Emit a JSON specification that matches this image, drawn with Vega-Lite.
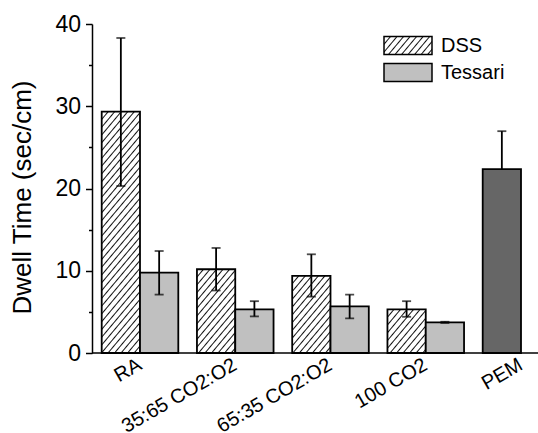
{
  "$schema": "https://vega.github.io/schema/vega-lite/v6.json",
  "width": 446,
  "height": 329,
  "autosize": {"type": "none"},
  "padding": {"left": 92, "top": 24, "right": 0, "bottom": 80},
  "background": "white",
  "config": {"view": {"stroke": null}, "font": "Liberation Sans", "axis": {"grid": false}},
  "data": {"values": [
    {"group": "RA", "method": "DSS", "value": 29.35, "lo": 20.3, "hi": 38.3},
    {"group": "RA", "method": "Tessari", "value": 9.77, "lo": 7.1, "hi": 12.4},
    {"group": "35:65 CO2:O2", "method": "DSS", "value": 10.18, "lo": 7.6, "hi": 12.77},
    {"group": "35:65 CO2:O2", "method": "Tessari", "value": 5.3, "lo": 4.45, "hi": 6.3},
    {"group": "65:35 CO2:O2", "method": "DSS", "value": 9.37, "lo": 6.85, "hi": 12.0},
    {"group": "65:35 CO2:O2", "method": "Tessari", "value": 5.67, "lo": 4.2, "hi": 7.1},
    {"group": "100 CO2", "method": "DSS", "value": 5.3, "lo": 4.4, "hi": 6.3},
    {"group": "100 CO2", "method": "Tessari", "value": 3.73, "lo": 3.65, "hi": 3.8},
    {"group": "PEM", "method": "PEM", "value": 22.35, "lo": 17.73, "hi": 26.97}
  ]},
  "layer": [
    {
      "transform": [{"filter": "datum.group !== 'PEM'"}],
      "encoding": {
        "x": {"field": "group", "type": "nominal", "title": null,
          "scale": {"domain": ["RA", "35:65 CO2:O2", "65:35 CO2:O2", "100 CO2", "PEM"], "range": [9.7, 467.3], "paddingInner": 0.1958, "paddingOuter": 0},
          "axis": {"domain": false, "ticks": false, "labelAngle": -30, "labelAlign": "right", "labelBaseline": "middle", "labelFontSize": 20, "labelColor": "black", "labelFont": "Liberation Sans", "labelPadding": 10, "labelOverlap": false}},
        "xOffset": {"field": "method", "type": "nominal", "scale": {"domain": ["DSS", "Tessari"], "paddingInner": 0, "paddingOuter": 0}}
      },
      "layer": [
        {
          "mark": {"type": "bar", "stroke": "black", "strokeWidth": 1.8},
          "encoding": {
            "y": {"field": "value", "type": "quantitative", "title": "Dwell Time (sec/cm)",
              "scale": {"domain": [0, 40], "nice": false},
              "axis": {"orient": "left", "values": [0, 5, 10, 15, 20, 25, 30, 35, 40], "labelExpr": "datum.value % 10 === 0 ? datum.label : ''",
                "tickSize": 6.5,
                "tickDash": {"condition": {"test": "datum.value % 10 !== 0", "value": [3.5, 20]}, "value": [1000, 0]},
                "tickColor": "black", "tickWidth": 1.5, "domainColor": "black", "domainWidth": 1.5,
                "labelFontSize": 23, "labelColor": "black", "labelFont": "Liberation Sans", "labelPadding": 5,
                "titleFontSize": 26, "titleFontWeight": "normal", "titleColor": "black", "titleFont": "Liberation Sans",
                "titleX": -57, "titleY": 173, "grid": false}},
            "fill": {"field": "method", "type": "nominal",
              "scale": {"domain": ["DSS", "Tessari"], "range": [{"expr": "({gradient: 'linear', x1: 0, y1: 0, x2: 4.70174, y2: 1.47944, stops: [{offset: 0, color: '#111'}, {offset: 0.00526, color: '#fff'}, {offset: 0.02105, color: '#fff'}, {offset: 0.02632, color: '#111'}, {offset: 0.03158, color: '#fff'}, {offset: 0.04737, color: '#fff'}, {offset: 0.05263, color: '#111'}, {offset: 0.05789, color: '#fff'}, {offset: 0.07368, color: '#fff'}, {offset: 0.07895, color: '#111'}, {offset: 0.08421, color: '#fff'}, {offset: 0.1, color: '#fff'}, {offset: 0.10526, color: '#111'}, {offset: 0.11053, color: '#fff'}, {offset: 0.12632, color: '#fff'}, {offset: 0.13158, color: '#111'}, {offset: 0.13684, color: '#fff'}, {offset: 0.15263, color: '#fff'}, {offset: 0.15789, color: '#111'}, {offset: 0.16316, color: '#fff'}, {offset: 0.17895, color: '#fff'}, {offset: 0.18421, color: '#111'}, {offset: 0.18947, color: '#fff'}, {offset: 0.20526, color: '#fff'}, {offset: 0.21053, color: '#111'}, {offset: 0.21579, color: '#fff'}, {offset: 0.23158, color: '#fff'}, {offset: 0.23684, color: '#111'}, {offset: 0.24211, color: '#fff'}, {offset: 0.25789, color: '#fff'}, {offset: 0.26316, color: '#111'}, {offset: 0.26842, color: '#fff'}, {offset: 1, color: '#fff'}]})"}, "#c0c0c0"]},
              "legend": {"title": null, "orient": "none", "legendX": 291, "legendY": 11, "padding": 0,
                "symbolType": "M-1,-0.375H1V0.375H-1Z", "symbolSize": 2304, "symbolStrokeColor": "black", "symbolStrokeWidth": 1.5,
                "labelFontSize": 20, "labelColor": "black", "labelFont": "Liberation Sans", "labelOffset": 8, "rowPadding": 6, "clipHeight": 21},
              "condition": [
                {"test": "datum.method === 'DSS' && datum.group === 'RA'", "value": {"gradient": "linear", "x1": 0, "y1": 0, "x2": 0.22348, "y2": 1.18223, "stops": [
{"offset":0,"color":"#111"},{"offset":0.00526,"color":"#fff"},
{"offset":0.02105,"color":"#fff"},{"offset":0.02632,"color":"#111"},{"offset":0.03158,"color":"#fff"},
{"offset":0.04737,"color":"#fff"},{"offset":0.05263,"color":"#111"},{"offset":0.05789,"color":"#fff"},
{"offset":0.07368,"color":"#fff"},{"offset":0.07895,"color":"#111"},{"offset":0.08421,"color":"#fff"},
{"offset":0.1,"color":"#fff"},{"offset":0.10526,"color":"#111"},{"offset":0.11053,"color":"#fff"},
{"offset":0.12632,"color":"#fff"},{"offset":0.13158,"color":"#111"},{"offset":0.13684,"color":"#fff"},
{"offset":0.15263,"color":"#fff"},{"offset":0.15789,"color":"#111"},{"offset":0.16316,"color":"#fff"},
{"offset":0.17895,"color":"#fff"},{"offset":0.18421,"color":"#111"},{"offset":0.18947,"color":"#fff"},
{"offset":0.20526,"color":"#fff"},{"offset":0.21053,"color":"#111"},{"offset":0.21579,"color":"#fff"},
{"offset":0.23158,"color":"#fff"},{"offset":0.23684,"color":"#111"},{"offset":0.24211,"color":"#fff"},
{"offset":0.25789,"color":"#fff"},{"offset":0.26316,"color":"#111"},{"offset":0.26842,"color":"#fff"},
{"offset":0.28421,"color":"#fff"},{"offset":0.28947,"color":"#111"},{"offset":0.29474,"color":"#fff"},
{"offset":0.31053,"color":"#fff"},{"offset":0.31579,"color":"#111"},{"offset":0.32105,"color":"#fff"},
{"offset":0.33684,"color":"#fff"},{"offset":0.34211,"color":"#111"},{"offset":0.34737,"color":"#fff"},
{"offset":0.36316,"color":"#fff"},{"offset":0.36842,"color":"#111"},{"offset":0.37368,"color":"#fff"},
{"offset":0.38947,"color":"#fff"},{"offset":0.39474,"color":"#111"},{"offset":0.4,"color":"#fff"},
{"offset":0.41579,"color":"#fff"},{"offset":0.42105,"color":"#111"},{"offset":0.42632,"color":"#fff"},
{"offset":0.44211,"color":"#fff"},{"offset":0.44737,"color":"#111"},{"offset":0.45263,"color":"#fff"},
{"offset":0.46842,"color":"#fff"},{"offset":0.47368,"color":"#111"},{"offset":0.47895,"color":"#fff"},
{"offset":0.49474,"color":"#fff"},{"offset":0.5,"color":"#111"},{"offset":0.50526,"color":"#fff"},
{"offset":0.52105,"color":"#fff"},{"offset":0.52632,"color":"#111"},{"offset":0.53158,"color":"#fff"},
{"offset":0.54737,"color":"#fff"},{"offset":0.55263,"color":"#111"},{"offset":0.55789,"color":"#fff"},
{"offset":0.57368,"color":"#fff"},{"offset":0.57895,"color":"#111"},{"offset":0.58421,"color":"#fff"},
{"offset":0.6,"color":"#fff"},{"offset":0.60526,"color":"#111"},{"offset":0.61053,"color":"#fff"},
{"offset":0.62632,"color":"#fff"},{"offset":0.63158,"color":"#111"},{"offset":0.63684,"color":"#fff"},
{"offset":0.65263,"color":"#fff"},{"offset":0.65789,"color":"#111"},{"offset":0.66316,"color":"#fff"},
{"offset":0.67895,"color":"#fff"},{"offset":0.68421,"color":"#111"},{"offset":0.68947,"color":"#fff"},
{"offset":0.70526,"color":"#fff"},{"offset":0.71053,"color":"#111"},{"offset":0.71579,"color":"#fff"},
{"offset":0.73158,"color":"#fff"},{"offset":0.73684,"color":"#111"},{"offset":0.74211,"color":"#fff"},
{"offset":0.75789,"color":"#fff"},{"offset":0.76316,"color":"#111"},{"offset":0.76842,"color":"#fff"},
{"offset":0.78421,"color":"#fff"},{"offset":0.78947,"color":"#111"},{"offset":0.79474,"color":"#fff"},
{"offset":0.81053,"color":"#fff"},{"offset":0.81579,"color":"#111"},{"offset":0.82105,"color":"#fff"},
{"offset":0.83684,"color":"#fff"},{"offset":0.84211,"color":"#111"},{"offset":0.84737,"color":"#fff"},
{"offset":0.86316,"color":"#fff"},{"offset":0.86842,"color":"#111"},{"offset":0.87368,"color":"#fff"},
{"offset":0.88947,"color":"#fff"},{"offset":0.89474,"color":"#111"},{"offset":0.9,"color":"#fff"},
{"offset":0.91579,"color":"#fff"},{"offset":0.92105,"color":"#111"},{"offset":0.92632,"color":"#fff"},
{"offset":0.94211,"color":"#fff"},{"offset":0.94737,"color":"#111"},{"offset":0.95263,"color":"#fff"},
{"offset":0.96842,"color":"#fff"},{"offset":0.97368,"color":"#111"},{"offset":0.97895,"color":"#fff"},
{"offset":1,"color":"#fff"}]}},
                {"test": "datum.method === 'DSS' && datum.group === '35:65 CO2:O2'", "value": {"gradient": "linear", "x1": 0, "y1": 0, "x2": 1.48334, "y2": 2.72173, "stops": [
{"offset":0,"color":"#111"},{"offset":0.00526,"color":"#fff"},
{"offset":0.02105,"color":"#fff"},{"offset":0.02632,"color":"#111"},{"offset":0.03158,"color":"#fff"},
{"offset":0.04737,"color":"#fff"},{"offset":0.05263,"color":"#111"},{"offset":0.05789,"color":"#fff"},
{"offset":0.07368,"color":"#fff"},{"offset":0.07895,"color":"#111"},{"offset":0.08421,"color":"#fff"},
{"offset":0.1,"color":"#fff"},{"offset":0.10526,"color":"#111"},{"offset":0.11053,"color":"#fff"},
{"offset":0.12632,"color":"#fff"},{"offset":0.13158,"color":"#111"},{"offset":0.13684,"color":"#fff"},
{"offset":0.15263,"color":"#fff"},{"offset":0.15789,"color":"#111"},{"offset":0.16316,"color":"#fff"},
{"offset":0.17895,"color":"#fff"},{"offset":0.18421,"color":"#111"},{"offset":0.18947,"color":"#fff"},
{"offset":0.20526,"color":"#fff"},{"offset":0.21053,"color":"#111"},{"offset":0.21579,"color":"#fff"},
{"offset":0.23158,"color":"#fff"},{"offset":0.23684,"color":"#111"},{"offset":0.24211,"color":"#fff"},
{"offset":0.25789,"color":"#fff"},{"offset":0.26316,"color":"#111"},{"offset":0.26842,"color":"#fff"},
{"offset":0.28421,"color":"#fff"},{"offset":0.28947,"color":"#111"},{"offset":0.29474,"color":"#fff"},
{"offset":0.31053,"color":"#fff"},{"offset":0.31579,"color":"#111"},{"offset":0.32105,"color":"#fff"},
{"offset":0.33684,"color":"#fff"},{"offset":0.34211,"color":"#111"},{"offset":0.34737,"color":"#fff"},
{"offset":0.36316,"color":"#fff"},{"offset":0.36842,"color":"#111"},{"offset":0.37368,"color":"#fff"},
{"offset":0.38947,"color":"#fff"},{"offset":0.39474,"color":"#111"},{"offset":0.4,"color":"#fff"},
{"offset":0.41579,"color":"#fff"},{"offset":0.42105,"color":"#111"},{"offset":0.42632,"color":"#fff"},
{"offset":0.44211,"color":"#fff"},{"offset":0.44737,"color":"#111"},{"offset":0.45263,"color":"#fff"},
{"offset":1,"color":"#fff"}]}},
                {"test": "datum.method === 'DSS' && datum.group === '65:35 CO2:O2'", "value": {"gradient": "linear", "x1": 0, "y1": 0, "x2": 1.68137, "y2": 2.83973, "stops": [
{"offset":0,"color":"#111"},{"offset":0.00526,"color":"#fff"},
{"offset":0.02105,"color":"#fff"},{"offset":0.02632,"color":"#111"},{"offset":0.03158,"color":"#fff"},
{"offset":0.04737,"color":"#fff"},{"offset":0.05263,"color":"#111"},{"offset":0.05789,"color":"#fff"},
{"offset":0.07368,"color":"#fff"},{"offset":0.07895,"color":"#111"},{"offset":0.08421,"color":"#fff"},
{"offset":0.1,"color":"#fff"},{"offset":0.10526,"color":"#111"},{"offset":0.11053,"color":"#fff"},
{"offset":0.12632,"color":"#fff"},{"offset":0.13158,"color":"#111"},{"offset":0.13684,"color":"#fff"},
{"offset":0.15263,"color":"#fff"},{"offset":0.15789,"color":"#111"},{"offset":0.16316,"color":"#fff"},
{"offset":0.17895,"color":"#fff"},{"offset":0.18421,"color":"#111"},{"offset":0.18947,"color":"#fff"},
{"offset":0.20526,"color":"#fff"},{"offset":0.21053,"color":"#111"},{"offset":0.21579,"color":"#fff"},
{"offset":0.23158,"color":"#fff"},{"offset":0.23684,"color":"#111"},{"offset":0.24211,"color":"#fff"},
{"offset":0.25789,"color":"#fff"},{"offset":0.26316,"color":"#111"},{"offset":0.26842,"color":"#fff"},
{"offset":0.28421,"color":"#fff"},{"offset":0.28947,"color":"#111"},{"offset":0.29474,"color":"#fff"},
{"offset":0.31053,"color":"#fff"},{"offset":0.31579,"color":"#111"},{"offset":0.32105,"color":"#fff"},
{"offset":0.33684,"color":"#fff"},{"offset":0.34211,"color":"#111"},{"offset":0.34737,"color":"#fff"},
{"offset":0.36316,"color":"#fff"},{"offset":0.36842,"color":"#111"},{"offset":0.37368,"color":"#fff"},
{"offset":0.38947,"color":"#fff"},{"offset":0.39474,"color":"#111"},{"offset":0.4,"color":"#fff"},
{"offset":0.41579,"color":"#fff"},{"offset":0.42105,"color":"#111"},{"offset":0.42632,"color":"#fff"},
{"offset":1,"color":"#fff"}]}},
                {"test": "datum.method === 'DSS' && datum.group === '100 CO2'", "value": {"gradient": "linear", "x1": 0, "y1": 0, "x2": 3.38706, "y2": 3.23555, "stops": [
{"offset":0,"color":"#111"},{"offset":0.00526,"color":"#fff"},
{"offset":0.02105,"color":"#fff"},{"offset":0.02632,"color":"#111"},{"offset":0.03158,"color":"#fff"},
{"offset":0.04737,"color":"#fff"},{"offset":0.05263,"color":"#111"},{"offset":0.05789,"color":"#fff"},
{"offset":0.07368,"color":"#fff"},{"offset":0.07895,"color":"#111"},{"offset":0.08421,"color":"#fff"},
{"offset":0.1,"color":"#fff"},{"offset":0.10526,"color":"#111"},{"offset":0.11053,"color":"#fff"},
{"offset":0.12632,"color":"#fff"},{"offset":0.13158,"color":"#111"},{"offset":0.13684,"color":"#fff"},
{"offset":0.15263,"color":"#fff"},{"offset":0.15789,"color":"#111"},{"offset":0.16316,"color":"#fff"},
{"offset":0.17895,"color":"#fff"},{"offset":0.18421,"color":"#111"},{"offset":0.18947,"color":"#fff"},
{"offset":0.20526,"color":"#fff"},{"offset":0.21053,"color":"#111"},{"offset":0.21579,"color":"#fff"},
{"offset":0.23158,"color":"#fff"},{"offset":0.23684,"color":"#111"},{"offset":0.24211,"color":"#fff"},
{"offset":0.25789,"color":"#fff"},{"offset":0.26316,"color":"#111"},{"offset":0.26842,"color":"#fff"},
{"offset":0.28421,"color":"#fff"},{"offset":0.28947,"color":"#111"},{"offset":0.29474,"color":"#fff"},
{"offset":0.31053,"color":"#fff"},{"offset":0.31579,"color":"#111"},{"offset":0.32105,"color":"#fff"},
{"offset":1,"color":"#fff"}]}}
              ]}
          }
        },
        {
          "mark": {"type": "rule", "color": "black", "strokeWidth": 1.8},
          "encoding": {
            "y": {"field": "lo", "type": "quantitative", "scale": {"domain": [0, 40], "nice": false}},
            "y2": {"field": "hi"}
          }
        },
        {
          "mark": {"type": "tick", "color": "black", "thickness": 1.8, "size": 9},
          "encoding": {"y": {"field": "hi", "type": "quantitative", "scale": {"domain": [0, 40], "nice": false}}}
        },
        {
          "mark": {"type": "tick", "color": "black", "thickness": 1.8, "size": 9},
          "encoding": {"y": {"field": "lo", "type": "quantitative", "scale": {"domain": [0, 40], "nice": false}}}
        }
      ]
    },
    {
      "transform": [{"filter": "datum.group === 'PEM'"}],
      "encoding": {
        "x": {"field": "group", "type": "nominal", "title": null,
          "scale": {"domain": ["RA", "35:65 CO2:O2", "65:35 CO2:O2", "100 CO2", "PEM"], "range": [9.7, 467.3], "paddingInner": 0.1958, "paddingOuter": 0},
          "axis": {"domain": false, "ticks": false, "labelAngle": -30, "labelAlign": "right", "labelBaseline": "middle", "labelFontSize": 20, "labelColor": "black", "labelFont": "Liberation Sans", "labelPadding": 10, "labelOverlap": false}},
        "xOffset": {"datum": "DSS", "type": "nominal", "scale": {"domain": ["DSS", "Tessari"], "paddingInner": 0, "paddingOuter": 0}}
      },
      "layer": [
        {
          "mark": {"type": "rule", "color": "black", "strokeWidth": 1.8},
          "encoding": {
            "y": {"field": "lo", "type": "quantitative", "scale": {"domain": [0, 40], "nice": false}},
            "y2": {"field": "hi"}
          }
        },
        {
          "mark": {"type": "tick", "color": "black", "thickness": 1.8, "size": 9},
          "encoding": {"y": {"field": "hi", "type": "quantitative", "scale": {"domain": [0, 40], "nice": false}}}
        },
        {
          "mark": {"type": "bar", "stroke": "black", "strokeWidth": 1.8, "fill": "#666666"},
          "encoding": {"y": {"field": "value", "type": "quantitative", "scale": {"domain": [0, 40], "nice": false}}}
        }
      ]
    },
    {
      "data": {"values": [{}]},
      "mark": {"type": "rule", "color": "black", "strokeWidth": 1.5},
      "encoding": {"y": {"datum": 0, "type": "quantitative", "scale": {"domain": [0, 40], "nice": false}}}
    }
  ]
}
